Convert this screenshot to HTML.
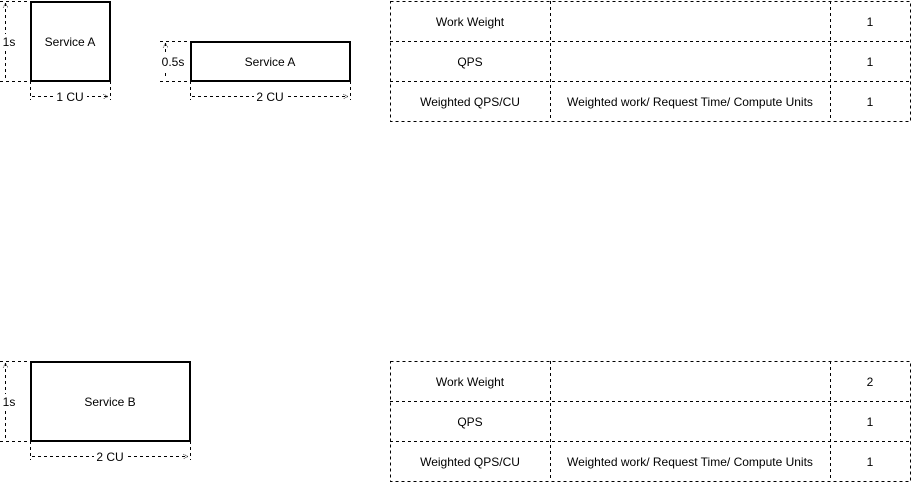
<!DOCTYPE html>
<html><head><style>body{margin:0;background:#fff}svg{display:block}text{font-family:"Liberation Sans",Arial,sans-serif;font-size:12px;fill:#000}</style></head><body>
<svg width="911" height="482" viewBox="0 0 911 482" xmlns="http://www.w3.org/2000/svg">
<defs>
<marker id="a" viewBox="0 0 10 10" refX="9" refY="5" markerWidth="6" markerHeight="6" orient="auto-start-reverse"><path d="M1,1 L9,5 L1,9" fill="none" stroke="#000" stroke-dasharray="2 1"/></marker>
</defs>
<g fill="none" stroke="#000" stroke-dasharray="3 3" stroke-width="1">
<!-- A1 -->
<path d="M0,1.5H30M0,81.5H30M30.5,81V100M110.5,81V100"/>
<path d="M5.5,3V79M32,96.5H108" marker-start="url(#a)" marker-end="url(#a)"/>
<!-- A2 -->
<path d="M160,41.5H190M160,81.5H190M190.5,81V100M350.5,81V100"/>
<path d="M165.5,43V79M192,96.5H348" marker-start="url(#a)" marker-end="url(#a)"/>
<!-- B -->
<path d="M0,361.5H30M0,441.5H30M30.5,441V460M190.5,441V460"/>
<path d="M5.5,363V439M32,456.5H188" marker-start="url(#a)" marker-end="url(#a)"/>
<!-- tables -->
<rect x="390.5" y="1.5" width="520" height="120"/>
<path d="M390,41.5H911M390,81.5H911M550.5,1V121M830.5,1V121"/>
<rect x="390.5" y="361.5" width="520" height="120"/>
<path d="M390,401.5H911M390,441.5H911M550.5,361V481M830.5,361V481"/>
</g>
<g fill="#fff" stroke="#000" stroke-width="2">
<rect x="31" y="2" width="79" height="79"/>
<rect x="191" y="42" width="159" height="39"/>
<rect x="31" y="362" width="159" height="79"/>
</g>
<g fill="#fff">
<rect x="2" y="34" width="14" height="16"/>
<rect x="161" y="54" width="24" height="16"/>
<rect x="2" y="394" width="14" height="16"/>
<rect x="55" y="89" width="32" height="14"/>
<rect x="254" y="89" width="32" height="14"/>
<rect x="94" y="449" width="32" height="14"/>
</g>
<g text-anchor="middle">
<text x="70" y="46">Service A</text>
<text x="270" y="66">Service A</text>
<text x="110" y="406">Service B</text>
<text x="9" y="46">1s</text>
<text x="173" y="66">0.5s</text>
<text x="9" y="406">1s</text>
<text x="70" y="101">1 CU</text>
<text x="270" y="101">2 CU</text>
<text x="110" y="461">2 CU</text>
<text x="470" y="26">Work Weight</text>
<text x="470" y="66">QPS</text>
<text x="470" y="106">Weighted QPS/CU</text>
<text x="690" y="106">Weighted work/ Request Time/ Compute Units</text>
<text x="870" y="26">1</text><text x="870" y="66">1</text><text x="870" y="106">1</text>
<text x="470" y="386">Work Weight</text>
<text x="470" y="426">QPS</text>
<text x="470" y="466">Weighted QPS/CU</text>
<text x="690" y="466">Weighted work/ Request Time/ Compute Units</text>
<text x="870" y="386">2</text><text x="870" y="426">1</text><text x="870" y="466">1</text>
</g>
</svg>
</body></html>
